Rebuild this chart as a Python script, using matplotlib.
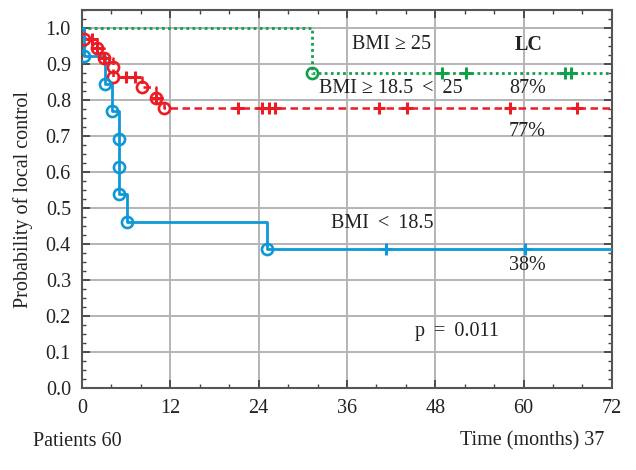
import matplotlib
matplotlib.use("Agg")
import matplotlib.pyplot as plt
from matplotlib.ticker import MultipleLocator

plt.rcParams['font.family'] = ['Liberation Serif', 'DejaVu Serif']

# ---- data ----
blue_t = [0, 0.2, 3.1, 4.1, 5.0, 5.0, 5.0, 6.1, 25.2]
blue_s = [1.0, 0.923, 0.846, 0.769, 0.692, 0.615, 0.538, 0.462, 0.385]
blue_cens = [41.3, 60.2]

red_t = [0, 0.2, 2.1, 3.0, 4.2, 4.2, 8.1, 10.1, 11.2]
red_s = [1.0, 0.971, 0.945, 0.916, 0.892, 0.864, 0.835, 0.805, 0.778]
red_cens = [1.4, 2.1, 3.0, 6.0, 7.2, 10.1, 21.2, 24.4, 25.4, 26.2, 40.3, 44.2, 58.2, 67.2]

green_t = [0, 31.2]
green_s = [1.0, 0.875]
green_cens = [48.9, 52.2, 65.6, 66.4]

x_ticks = [0, 12, 24, 36, 48, 60, 72]
y_ticks = [0.0, 0.1, 0.2, 0.3, 0.4, 0.5, 0.6, 0.7, 0.8, 0.9, 1.0]
t_max = 72

BLUE = '#0f98d8'
RED = '#ec1c24'
GREEN = '#12a04a'
TXT = '#222222'
FS = 14.5

fig = plt.figure(figsize=(6.36, 4.70), dpi=100)
ax = fig.add_axes([0.129, 0.1745, 0.833, 0.804])


def surv_at(ts, ss, x):
    v = ss[0]
    for t, s in zip(ts, ss):
        if t <= x:
            v = s
    return v


def draw(ts, ss, cens, color, ls, lw):
    xs = list(ts) + [t_max]
    ys = list(ss) + [ss[-1]]
    ax.step(xs, ys, where='post', color=color, ls=ls, lw=lw, zorder=3)
    ax.plot(ts[1:], ss[1:], ls='none', marker='o', ms=8, mfc='none',
            mec=color, mew=1.9, zorder=4)
    ax.plot(cens, [surv_at(ts, ss, c) for c in cens], ls='none', marker='+',
            ms=9, mec=color, mew=2.2, zorder=4)


draw(green_t, green_s, green_cens, GREEN, (0, (1, 1.2)), 2.0)
draw(red_t, red_s, red_cens, RED, (0, (3, 1.8)), 1.8)
draw(blue_t, blue_s, blue_cens, BLUE, '-', 2.0)

ax.set_xlim(0, 72)
ax.set_ylim(0, 1.05)
ax.set_xticks(x_ticks)
ax.set_yticks(y_ticks)
ax.set_yticklabels([f"{v:.1f}" for v in y_ticks])
ax.xaxis.set_minor_locator(MultipleLocator(4))
ax.yaxis.set_minor_locator(MultipleLocator(0.025))
ax.grid(True, which='major', color='#b4b4b4', lw=1.4, zorder=0)
ax.set_axisbelow(True)
ax.tick_params(which='both', direction='in', top=True, right=True,
               color='#444444', labelsize=FS, labelcolor=TXT)
ax.tick_params(which='major', length=6, width=1.3)
ax.tick_params(axis='x', which='major', pad=8)
ax.tick_params(axis='y', which='major', pad=8)
ax.tick_params(which='minor', length=3, width=1.0)
for s in ax.spines.values():
    s.set_color('#555555')
    s.set_linewidth(1.5)

ax.set_ylabel('Probability of local control', fontsize=FS, labelpad=9,
              color=TXT)

tk = dict(fontsize=FS, color=TXT, ha='center', va='center')
ax.text(42, 0.954, 'BMI \u2265 25', **tk)
ax.text(60.7, 0.954, 'LC', fontweight='bold', **tk)
ax.text(42, 0.831, 'BMI \u2265 18.5 \u2009<\u2009 25', **tk)
ax.text(60.5, 0.831, '87%', **tk)
ax.text(60.5, 0.714, '77%', **tk)
ax.text(40.8, 0.456, 'BMI \u2009<\u2009 18.5', **tk)
ax.text(60.5, 0.339, '38%', **tk)
ax.text(51, 0.158, 'p \u2009=\u2009 0.011', **tk)

fig.text(33 / 636, 1 - 441 / 470, 'Patients 60', fontsize=FS,
         color=TXT, ha='left', va='center')
fig.text(604 / 636, 1 - 441 / 470, 'Time (months) 37', fontsize=FS,
         color=TXT, ha='right', va='center')

fig.savefig('out.png', dpi=100)
